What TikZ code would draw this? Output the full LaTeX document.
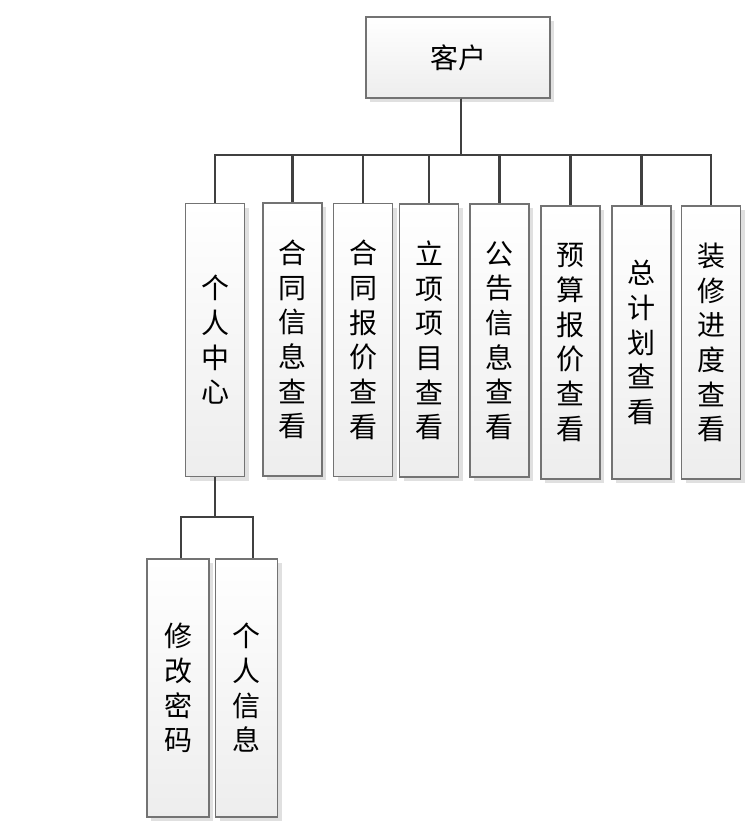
\documentclass[tikz,border=0pt]{standalone}
\usepackage{fontspec}
\newfontfamily\cjk{Noto Sans CJK SC}
\usetikzlibrary{shadows}

\begin{document}
\begin{tikzpicture}[
    x=0.75pt, y=-0.75pt,
    box/.style={draw=black!55, line width=0.9pt, top color=white, bottom color=black!7,
        drop shadow={shadow xshift=3pt, shadow yshift=-3pt, fill=black!12, opacity=1},
        align=center, inner sep=0pt, font=\cjk\fontsize{21pt}{26pt}\selectfont},
    rootbox/.style={box, minimum width=138pt, minimum height=60.75pt},
    colbox/.style={box, minimum width=44.25pt, minimum height=204.75pt},
    subbox/.style={box, minimum width=46.5pt, minimum height=193.5pt},
    link/.style={line width=1.7pt, draw=black!75},
]
\useasboundingbox (0,0) rectangle (753,835);

% =============================================================================
% Root
% =============================================================================
\node[rootbox] (kehu) at (458, 57.5) {客户};

% =============================================================================
% First level
% =============================================================================
\node[colbox] (geren)   at (215, 340)   {个\\人\\中\\心};
\node[colbox] (htxx)    at (292.5, 339.5) {合\\同\\信\\息\\查\\看};
\node[colbox] (htbj)    at (363, 340)   {合\\同\\报\\价\\查\\看};
\node[colbox] (lxxm)    at (429, 340.5) {立\\项\\项\\目\\查\\看};
\node[colbox] (ggxx)    at (499.5, 340.5) {公\\告\\信\\息\\查\\看};
\node[colbox] (ysbj)    at (570.5, 342.5) {预\\算\\报\\价\\查\\看};
\node[colbox] (zjh)     at (641.5, 342.5) {总\\计\\划\\查\\看};
\node[colbox] (zxjd)    at (711, 342.5) {装\\修\\进\\度\\查\\看};

% Bus
\coordinate (bus) at (461, 155);
\foreach \c in {geren, htxx, htbj, lxxm, ggxx, ysbj, zjh, zxjd}
    \draw[link] (kehu.south -| bus) -- (bus) -| (\c.north);

% =============================================================================
% Second level (Personal center)
% =============================================================================
\node[subbox] (xgmm) at (178, 688)   {修\\改\\密\\码};
\node[subbox] (grxx) at (246.5, 688) {个\\人\\信\\息};

\coordinate (bus2) at (215, 517);
\draw[link] (geren.south) -- (bus2) -| ([xshift=2pt]xgmm.north);
\draw[link] (bus2) -| ([xshift=5pt]grxx.north);

\end{tikzpicture}
\end{document}
